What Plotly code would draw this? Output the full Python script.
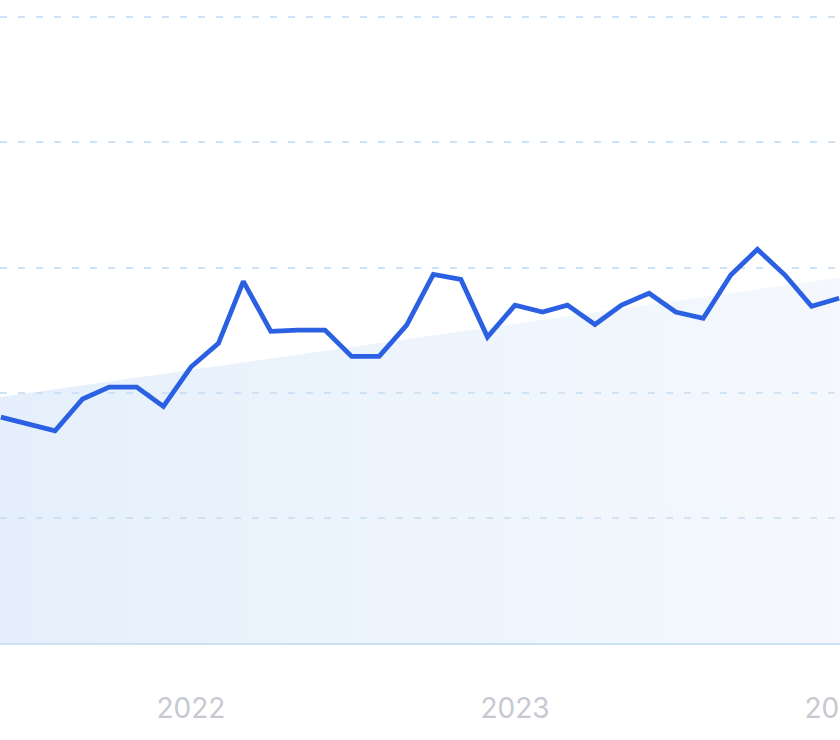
import plotly.graph_objects as go

# monthly index values (visible window of the chart)
months = [
    "2021-06-01", "2021-07-01", "2021-08-01", "2021-09-01", "2021-10-01", "2021-11-01",
    "2021-12-01", "2022-01-01", "2022-02-01", "2022-03-01", "2022-04-01", "2022-05-01",
    "2022-06-01", "2022-07-01", "2022-08-01", "2022-09-01", "2022-10-01", "2022-11-01",
    "2022-12-01", "2023-01-01", "2023-02-01", "2023-03-01", "2023-04-01", "2023-05-01",
    "2023-06-01", "2023-07-01", "2023-08-01", "2023-09-01", "2023-10-01", "2023-11-01",
    "2023-12-01", "2024-01-01",
]
index_values = [
    36.1, 35.0, 33.9, 39.0, 40.9, 40.9,
    37.8, 44.1, 47.9, 57.8, 49.8, 50.0,
    50.0, 45.8, 45.8, 50.8, 58.9, 58.1,
    48.9, 54.0, 52.9, 54.0, 50.9, 54.0,
    55.9, 52.9, 51.9, 58.8, 62.9, 58.8,
    53.8, 55.1,
]

# linear trend (start / end of window)
trend_dates = ["2021-05-31", "2024-01-02"]
trend_values = [39.3, 58.4]

year_ticks = ["2022-01-01", "2023-01-01", "2024-01-01"]
year_labels = ["2022", "2023", "2024"]

COLORS = {
    "line": "#2b60e3",
    "grid": "#cde3f5",
    "axis": "#cbe2f5",
    "tick": "#c6c9d0",
}

fig = go.Figure()

fig.add_trace(go.Scatter(
    x=trend_dates,
    y=trend_values,
    mode="lines",
    line=dict(width=0),
    fill="tozeroy",
    fillgradient=dict(
        type="horizontal",
        colorscale=[[0, "rgba(196,220,247,0.45)"], [1, "rgba(220,233,249,0.3)"]],
    ),
    hoverinfo="skip",
    showlegend=False,
))

fig.add_trace(go.Scatter(
    x=months,
    y=index_values,
    mode="lines",
    line=dict(color=COLORS["line"], width=4.8),
    showlegend=False,
))

fig.update_layout(
    width=840,
    height=740,
    margin=dict(l=0, r=0, t=16, b=97),
    paper_bgcolor="white",
    plot_bgcolor="white",
    font=dict(family="Inter, sans-serif", color=COLORS["tick"]),
    xaxis=dict(
        range=["2021-05-31", "2024-01-02"],
        automargin=False,
        showgrid=False,
        zeroline=False,
        showline=True,
        linecolor=COLORS["axis"],
        linewidth=2,
        tickmode="array",
        tickvals=year_ticks,
        ticktext=year_labels,
        ticks="",
        ticklabelstandoff=39,
        ticklabeloverflow="allow",
        tickfont=dict(size=28, color=COLORS["tick"]),
    ),
    yaxis=dict(
        range=[0, 100.2],
        automargin=False,
        dtick=20,
        showgrid=True,
        gridcolor=COLORS["grid"],
        gridwidth=2,
        griddash="7px,11px",
        zeroline=False,
        showticklabels=False,
    ),
)

fig.write_html(
    "out.html",
    config={"displayModeBar": False},
    post_script="document.body.style.margin='0px';",
)
